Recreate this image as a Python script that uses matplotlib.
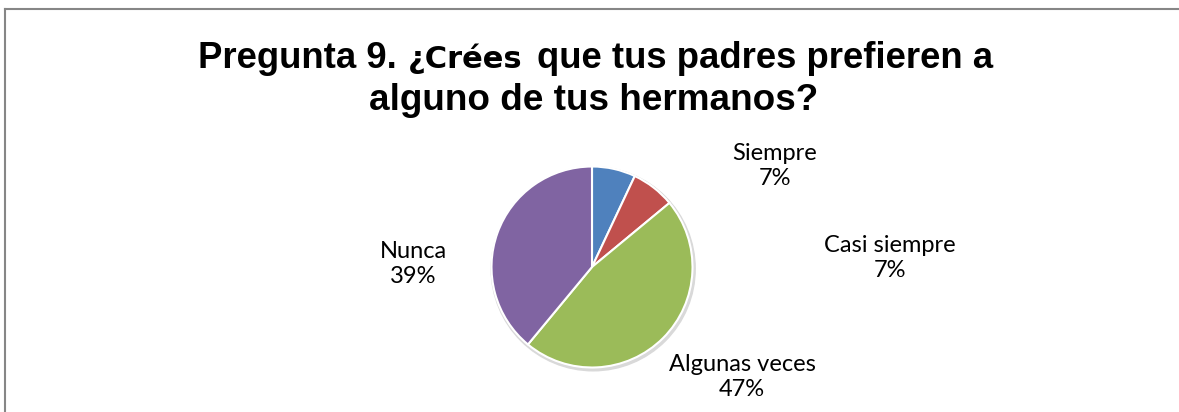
import matplotlib
matplotlib.use("Agg")
import matplotlib.pyplot as plt
from matplotlib.lines import Line2D
from matplotlib.patches import Circle

# datos (porcentajes)
categorias = ["Siempre", "Casi siempre", "Algunas veces", "Nunca"]
porcentajes = [7, 7, 47, 39]
colores = ["#4F81BD", "#C0504D", "#9BBB59", "#8064A2"]

titulo_1 = ["Pregunta 9.", "¿Crées", "que tus padres prefieren a"]
titulo_2 = "alguno de tus hermanos?"

# posiciones de las etiquetas en pixeles (centro del texto)
pos_etiquetas = [(775, 166), (890, 258), (742, 377), (413, 264)]

W, H = 1179, 412
fig = plt.figure(figsize=(W / 100, H / 100), dpi=100)

# borde del area del grafico
fig.add_artist(Line2D([4.5 / W, 4.5 / W], [0, 1 - 8.5 / H], transform=fig.transFigure, color="#868686", lw=1.5))
fig.add_artist(Line2D([4.5 / W, 1], [1 - 8.5 / H, 1 - 8.5 / H], transform=fig.transFigure, color="#868686", lw=1.5))

cx, cy, r = 592, 267, 100.5
ax = fig.add_axes([(cx - r) / W, (H - cy - r) / H, 2 * r / W, 2 * r / H])
ax.axis("off")

# sombra suave
ax.add_patch(Circle((0.012, -0.018), 1.015, color="#d9d9d9", zorder=0, clip_on=False))
ax.pie(porcentajes, colors=colores, startangle=90, counterclock=False, radius=1,
       wedgeprops=dict(edgecolor="white", linewidth=1.5), frame=False)
ax.set_xlim(-1, 1)
ax.set_ylim(-1, 1)
ax.set_aspect("equal")

for cat, p, (px, py) in zip(categorias, porcentajes, pos_etiquetas):
    ax.text((px - cx) / r, (cy - py) / r, f"{cat}\n{p}%", ha="center", va="center",
            fontsize=17, family="Lato", linespacing=1.22, color="black", clip_on=False)

# titulo: tres trozos en la primera linea, el del medio en otra fuente
x_trozos = [198, 408, 537]
fuentes = ["Liberation Sans", "DejaVu Sans", "Liberation Sans"]
tamanos = [26.3, 22, 26.3]
for s, xp, fam, fs in zip(titulo_1, x_trozos, fuentes, tamanos):
    fig.text(xp / W, 1 - 67.5 / H, s, fontsize=fs, fontweight="bold", family=fam,
             ha="left", va="baseline")
fig.text(594 / W, 1 - 110 / H, titulo_2, fontsize=26.6, fontweight="bold", family="Liberation Sans",
         ha="center", va="baseline")

fig.savefig("out.png", dpi=100)
